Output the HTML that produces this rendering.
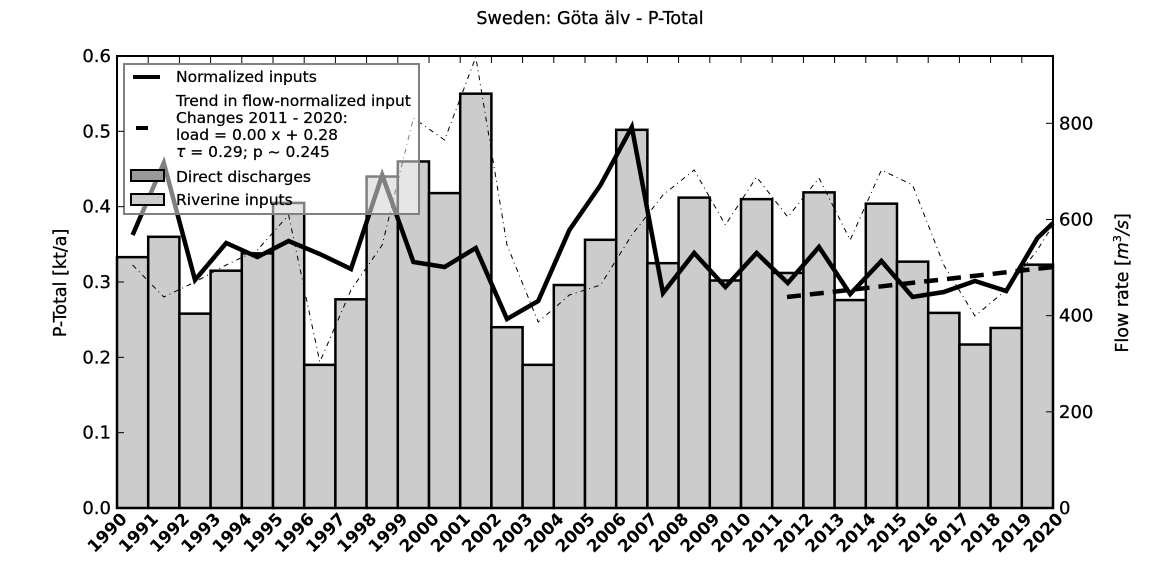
<!DOCTYPE html>
<html><head><meta charset="utf-8"><style>
html,body{margin:0;padding:0;background:#fff;}
svg{display:block;font-family:"DejaVu Sans","Liberation Sans",sans-serif;}
</style></head><body>
<svg id="s" width="1170" height="566" viewBox="0 0 1170 566" xmlns="http://www.w3.org/2000/svg"></svg>
<script>
const s=document.getElementById('s');
const L=117,R=1053,T=56,B=508;
const bw=(R-L)/30;
const yL=v=>B-v*(B-T)/0.6;
let h='';
h+=`<text x="590" y="24" font-size="17.5" text-anchor="middle" stroke="#000" stroke-width="0.3">Sweden: Göta älv - P-Total</text>`;
const bars=[0.333,0.36,0.258,0.315,0.338,0.405,0.19,0.277,0.44,0.46,0.418,0.55,0.24,0.19,0.296,0.356,0.502,0.325,0.412,0.302,0.41,0.312,0.419,0.276,0.404,0.327,0.259,0.217,0.239,0.323];
bars.forEach((v,i)=>{const x=L+i*bw;h+=`<rect x="${x}" y="${yL(v)}" width="${bw}" height="${B-yL(v)}" fill="#cccccc" stroke="#000" stroke-width="2.5"/>`;});
const cx=i=>L+(i+0.5)*bw;
const flow=[265,297,282,265,250,215,362,290,245,118,140,57,245,322,295,285,235,195,170,225,177,217,178,240,170,185,265,316,290,250];
let fp=flow.map((y,i)=>`${cx(i)},${y}`).join(' ')+` ${R},225`;
h+=`<polyline points="${fp}" fill="none" stroke="#000" stroke-width="1" stroke-dasharray="5,4,1,4"/>`;
const norm=[235,163,280,243,257,241,254,269,175,262,267,248,319,301,230,185,127,293,253,287,253,283,247,294,261,297,292,281,291,238];
let np=norm.map((y,i)=>`${cx(i)},${y}`).join(' ')+` ${R},223`;
h+=`<polyline points="${np}" fill="none" stroke="#000" stroke-width="4.5" stroke-linejoin="miter"/>`;
h+=`<line x1="787" y1="297" x2="${R}" y2="267" stroke="#000" stroke-width="4.5" stroke-dasharray="14,9"/>`;
// legend
h+=`<rect x="124" y="64" width="295" height="150" fill="#fff" fill-opacity="0.5" stroke="#808080" stroke-width="2"/>`;
h+=`<line x1="133" y1="77" x2="160" y2="77" stroke="#000" stroke-width="4"/>`;
h+=`<line x1="136" y1="128" x2="148" y2="128" stroke="#000" stroke-width="4"/>`;
const tl=(x,y,t)=>`<text x="${x}" y="${y}" font-size="15.5" stroke="#000" stroke-width="0.25">${t}</text>`;
h+=tl(176,82,'Normalized inputs')+tl(176,106,'Trend in flow-normalized input')+tl(176,123,'Changes 2011 - 2020:')+tl(176,140,'load =  0.00 x +  0.28')+tl(176,157,'<tspan font-style="italic">τ</tspan> =  0.29; p ~ 0.245')+tl(176,182,'Direct discharges')+tl(176,205,'Riverine inputs');
h+=`<rect x="131" y="170" width="33" height="11" fill="#999" stroke="#000" stroke-width="2"/>`;
h+=`<rect x="131" y="194" width="33" height="11" fill="#ccc" stroke="#000" stroke-width="2"/>`;
// frame
h+=`<rect x="${L}" y="${T}" width="${R-L}" height="${B-T}" fill="none" stroke="#000" stroke-width="2"/>`;
for(let k=0;k<=6;k++){const v=k/10,y=yL(v);h+=`<line x1="${L}" y1="${y}" x2="${L+7}" y2="${y}" stroke="#000"/>`;h+=`<text x="${L-6}" y="${y+6}" font-size="18" text-anchor="end" stroke="#000" stroke-width="0.3">${v.toFixed(1)}</text>`;}
for(let k=0;k<=4;k++){const y=B-k*200*(B-T)/940;h+=`<line x1="${R-7}" y1="${y}" x2="${R}" y2="${y}" stroke="#000"/>`;h+=`<text x="${R+6}" y="${y+6}" font-size="18" stroke="#000" stroke-width="0.3">${k*200}</text>`;}
for(let i=0;i<=30;i++){const x=L+i*bw;h+=`<line x1="${x}" y1="${T}" x2="${x}" y2="${T+7}" stroke="#000"/><line x1="${x}" y1="${B}" x2="${x}" y2="${B-7}" stroke="#000"/>`;
h+=`<text transform="translate(${x+11},${B+12}) rotate(-45)" font-size="17" font-weight="bold" text-anchor="end">${1990+i}</text>`;}
h+=`<text transform="translate(66,283) rotate(-90)" font-size="17.5" text-anchor="middle" stroke="#000" stroke-width="0.3">P-Total [kt/a]</text>`;
h+=`<text transform="translate(1128,283) rotate(-90)" font-size="17.5" text-anchor="middle" stroke="#000" stroke-width="0.3">Flow rate [<tspan font-style="italic">m</tspan><tspan font-size="11" dy="-7">3</tspan><tspan dy="7" font-style="italic">/s</tspan>]</text>`;
s.innerHTML=h;
</script>
</body></html>
